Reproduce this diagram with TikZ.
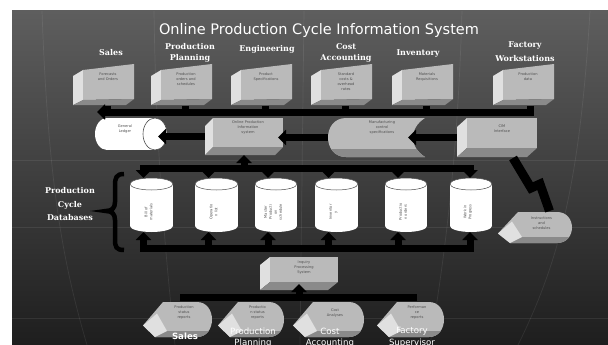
\documentclass[tikz,border=0pt]{standalone}
\usepackage{fontspec}
\setmainfont{DejaVu Sans}
\newfontfamily\hdfont{DejaVu Serif}
\usetikzlibrary{arrows.meta,calc}

\definecolor{bgtop}{HTML}{5E5E5E}
\definecolor{bgbot}{HTML}{1E1E1E}
\definecolor{faceF}{HTML}{BABABA}
\definecolor{faceL}{HTML}{E0E0E0}
\definecolor{faceB}{HTML}{8A8A8A}
\definecolor{inktext}{HTML}{4E4E4E}

\tikzset{
  bigarrow/.style={line width=7pt, draw=black, line join=miter, -{Triangle[width=15pt,length=8pt]}},
  bigarrowtwo/.style={line width=7pt, draw=black, line join=miter, {Triangle[width=15pt,length=8pt]}-{Triangle[width=15pt,length=8pt]}},
  barline/.style={line width=7pt, draw=black, line join=miter},
  hit/.style={draw=none, inner sep=0pt, outer sep=0pt, rectangle},
  tinytext/.style={font=\fontsize{3.6}{5}\selectfont, text=inktext, align=center, inner sep=0pt},
  hdr/.style={font=\hdfont\bfseries\fontsize{8}{11}\selectfont, text=white, align=center, inner sep=0pt},
  ttlstyle/.style={font=\fontsize{14.5}{16}\selectfont, text=white, inner sep=0pt},
  botlabel/.style={font=\fontsize{8.6}{11.5}\selectfont, text=white, align=center, inner sep=0pt},
}

% top-row slanted box: name, left x, text
\newcommand\topbox[3]{%
  \fill[faceL] (#2,76) -- (#2+10,70) -- (#2+10,100) -- (#2,105) -- cycle;
  \fill[faceF] (#2+10,70) -- (#2+61,64) -- (#2+61,99) -- (#2+10,100) -- cycle;
  \fill[faceB] (#2,105) -- (#2+10,100) -- (#2+61,99) -- (#2+53,105) -- cycle;
  \node[hit, minimum width=61pt, minimum height=41pt] (#1) at (#2+30.5,85) {};
  \node[tinytext, anchor=north] at (#2+35,72.5) {#3};
}
% extruded box: name, xf0, xf1, yf0, yf1, dx, dy, text offset, text
\newcommand\flatbox[9]{%
  \fill[faceL] (#2-#6,#4+#7) -- (#2,#4) -- (#2,#5) -- (#2-#6,#5+#7) -- cycle;
  \fill[faceB] (#2-#6,#5+#7) -- (#2,#5) -- (#3,#5) -- (#3-#6,#5+#7) -- cycle;
  \fill[faceF] (#2,#4) rectangle (#3,#5);
  \node[hit, minimum width={(#3-#2+#6)*1pt}, minimum height={(#5-#4+#7)*1pt}] (#1) at ({(#2-#6+#3)/2},{(#4+#5+#7)/2}) {};
  \node[tinytext, anchor=north] at ({(#2+#3)/2},#4+#8) {#9};
}
% vertical cylinder: name, x0, x1, y0, y1, text
\newcommand\vcyl[6]{%
  \fill[white] (#2,#4+6) rectangle (#3,#5-6);
  \fill[white] ({(#2+#3)/2},#5-6) ellipse [x radius={(#3-#2)/2}, y radius=6];
  \filldraw[fill=white, draw=gray!60!black, line width=0.5pt] ({(#2+#3)/2},#4+6) ellipse [x radius={(#3-#2)/2}, y radius=6];
  \node[hit, minimum width={(#3-#2)*1pt}, minimum height={(#5-#4)*1pt}] (#1) at ({(#2+#3)/2},{(#4+#5)/2}) {};
  \node[tinytext, rotate=90] at ({(#2+#3)/2-3},212) {#6};
}
% display shape: name, x0, x1, y0, y1, text
\newcommand\dispshape[6]{%
  \pgfmathsetmacro\dsym{(#4+#5)/2}
  \begin{scope}
    \path[clip] (#2,\dsym+6) -- (#2+20,#4) -- (#3-16,#4) .. controls (#3+4,#4) and (#3+4,#5) .. (#3-16,#5) -- (#2+12,#5) -- cycle;
    \fill[faceF] (#2-2,#4-2) rectangle (#3+5,#5+2);
    \fill[faceB] (#2,#5-6) rectangle (#3+5,#5+2);
    \fill[faceL] (#2,\dsym+6) -- (#2+14,\dsym-6) -- (#2+24,#5-6) -- (#2+12,#5) -- cycle;
  \end{scope}
  \node[hit, minimum width={(#3-#2)*1pt}, minimum height={(#5-#4)*1pt}] (#1) at ({(#2+#3)/2},\dsym) {};
  \node[tinytext] at ({(#2+#3)/2+6},#4+11) {#6};
}

\begin{document}
\begin{tikzpicture}[x=1pt,y=1pt,yscale=-1]
\useasboundingbox (0,0) rectangle (608,345);
\fill[white] (0,0) rectangle (608,345);
\shade[top color=bgtop, bottom color=bgbot] (12,11) rectangle (608,345);

% faint globe grid
\begin{scope}[draw=white, opacity=0.08, line width=0.7pt]
  \draw (12,160) -- (608,160);
  \draw (12,227) -- (608,227);
  \draw (12,318) -- (608,318);
  \draw (87,345) .. controls (62,260) and (48,180) .. (42,11);
  \draw (175,345) .. controls (165,250) and (156,150) .. (154,11);
  \draw (300,345) -- (304,11);
  \draw (430,345) .. controls (446,250) and (458,150) .. (462,11);
  \draw (518,345) .. controls (560,260) and (580,180) .. (590,11);
\end{scope}

% title and headers
\node[ttlstyle] (ttl) at (319,31) {Online Production Cycle Information System};
\node[hdr] (hsales) at (111,53) {Sales};
\node[hdr] (hpp) at (190,53) {Production\\Planning};
\node[hdr] (heng) at (267,49) {Engineering};
\node[hdr] (hca) at (346,53) {Cost\\Accounting};
\node[hdr] (hinv) at (418,53) {Inventory};
\node[hdr, font=\hdfont\bfseries\fontsize{8}{14}\selectfont] (hfw) at (525,52) {Factory\\Workstations};
\node[hdr, font=\hdfont\bfseries\fontsize{8}{13.5}\selectfont] (hpcd) at (70,204.5) {Production\\Cycle\\Databases};

% top row boxes
\topbox{b1}{73}{Forecasts\\and Orders}
\topbox{b2}{151}{Production\\orders and\\schedules}
\topbox{b3}{231}{Product\\Specifications}
\topbox{b4}{311}{Standard\\costs \&\\overhead\\rates}
\topbox{b5}{392}{Materials\\Requisitions}
\topbox{b6}{493}{Production\\data}

% general ledger (horizontal cylinder)
\fill[white] (107,118) rectangle (155,150);
\fill[white] (107,134) ellipse [x radius=12, y radius=16];
\filldraw[fill=white, draw=gray!60!black, line width=0.6pt] (155,134) ellipse [x radius=12, y radius=16];
\node[hit, minimum width=72pt, minimum height=32pt] (gl) at (131,134) {};
\node[tinytext] at (125,129) {General\\Ledger};

% online production information system, CIM interface
\flatbox{onl}{213}{283}{118}{147}{8}{8}{3}{Online Production\\Information\\system}
\flatbox{cim}{467}{537}{118}{148}{10}{9}{7}{CIM\\Interface}

% manufacturing control specifications (stored data)
\begin{scope}
  \path[clip] (346,118) -- (425,118) .. controls (409,128) and (409,147) .. (425,157) -- (346,157) .. controls (322,157) and (322,118) .. (346,118) -- cycle;
  \fill[faceF] (320,110) rectangle (430,160);
  \fill[faceB] (320,149) rectangle (430,160);
\end{scope}
\node[hit, minimum width=97pt, minimum height=39pt] (mcs) at (376.5,137.5) {};
\node[tinytext, anchor=north] at (382,120.5) {Manufacturing\\control\\specifications};

% instructions and schedules
\dispshape{ins}{498}{573}{212}{243}{Instructions\\and\\schedules}

% databases
\vcyl{c1}{130}{173}{178}{232}{Bill of\\materials}
\vcyl{c2}{195}{238}{178}{232}{Operatio\\n list}
\vcyl{c3}{255}{297}{178}{232}{Master\\Producti\\on\\schedule}
\vcyl{c4}{315}{358}{178}{232}{Inventor\\y}
\vcyl{c5}{385}{427}{178}{232}{Productio\\n orders}
\vcyl{c6}{450}{492}{178}{232}{Work in\\Progress}

% inquiry processing system
\flatbox{inq}{270}{338}{257}{282}{10}{8}{4}{Inquiry\\Processing\\System}

% report shapes
\dispshape{r1}{143}{213}{302}{337}{Production\\status\\reports}
\dispshape{r2}{218}{285}{302}{337}{Productio\\n status\\reports}
\dispshape{r3}{293}{365}{302}{337}{Cost\\Analyses}
\dispshape{r4}{377}{445}{302}{337}{Performan\\ce\\reports}

\node[botlabel, font=\bfseries\fontsize{8.6}{11.5}\selectfont] (lsales) at (185,336.5) {Sales};
\node[botlabel] (lpp) at (253,337.5) {Production\\Planning};
\node[botlabel] (lca) at (330,337.5) {Cost\\Accounting};
\node[botlabel] (lfs) at (412,337.5) {Factory\\Supervisor};

% brace
\draw[line width=4.5pt] (124,174) .. controls (116,174) and (115,178) .. (115,186) -- (115,202) .. controls (115,208) and (112,211) .. (106,211) .. controls (112,211) and (115,214) .. (115,220) -- (115,239) .. controls (115,247) and (116,250) .. (124,250);

% ---- connectors ----
\coordinate (tb) at (97,112);
\draw[bigarrow] ([xshift=7pt]b6.south) |- (tb);
\foreach \b in {b1,b2,b3,b4,b5}
  \draw[barline] ([xshift=4pt]\b.south) -- ([xshift=4pt]\b.south |- tb);

\draw[bigarrow] (onl.west) -- ([xshift=-9pt]onl.west -| gl.east);
\draw[bigarrow] (mcs.west) -- ([xshift=-5pt]mcs.west -| onl.east);
\draw[bigarrow] (cim.west) -- ([xshift=-17pt]cim.west -| mcs.east);
\draw[line width=9pt, line join=miter] ($(cim.south)+(16,1)$) -- ++(18,30) -- ++(9,-4) -- ($(ins.north)+(14,-1)$);

\coordinate (mb) at (300,168);
\draw[bigarrow] (onl.south |- mb) -- (onl.south);
\draw[bigarrowtwo] ([xshift=-8pt]c1.north) |- (mb) -| ([xshift=-1pt]c6.north);
\foreach \c in {c2,c3,c4,c5}
  \draw[bigarrow] ([xshift=-8pt]\c.north |- mb) -- ([xshift=-8pt]\c.north);

\coordinate (bb) at (300,248);
\draw[bigarrowtwo] ([xshift=-8pt]c1.south) |- (bb) -| ([xshift=-1pt]c6.south);
\foreach \c in {c2,c3,c4,c5}
  \draw[bigarrow] ([xshift=-8pt]\c.south |- bb) -- ([xshift=-8pt]\c.south);

\coordinate (lb) at ($(r1.north)+(2,-5)$);
\draw[barline] (lb) -- ($(r4.north)+(6,-5)$);
\draw[bigarrow] (inq.south |- lb) -- ($(inq.south)+(0,-6)$);
\end{tikzpicture}
\end{document}
